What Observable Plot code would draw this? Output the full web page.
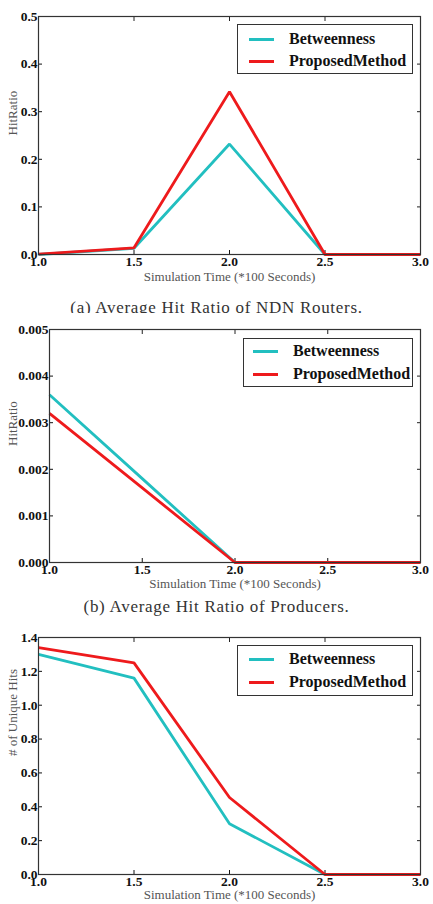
<!DOCTYPE html>
<html>
<head>
<meta charset="utf-8">
<script src="https://cdn.jsdelivr.net/npm/d3@7"></script>
<script src="https://cdn.jsdelivr.net/npm/@observablehq/plot@0.6"></script>
<style>
  html, body { margin: 0; padding: 0; background: #fff; }
  #root { position: relative; width: 433px; height: 904px; overflow: hidden; background: #fff; }
  .panel { position: absolute; left: 0; }
  .caption { position: absolute; left: 0; width: 433px; text-align: center;
    font-family: "Liberation Serif", serif; font-size: 17px; letter-spacing: 0.7px; color: #333; }
  .legend { position: absolute; border: 1px solid #333; background: #fff; box-sizing: border-box; }
  .legend .row { position: absolute; left: 0; right: 0; height: 20px; }
  .legend .swatch { position: absolute; height: 3px; }
  .legend .lbl { position: absolute; font-family: "Liberation Serif", serif; font-weight: bold;
    font-size: 16px; line-height: 20px; color: #111; }
</style>
</head>
<body>
<div id="root"></div>
<script>
// ---- data ----
const times = [1.0, 1.5, 2.0, 2.5, 3.0];
const seriesNames = ["Betweenness", "ProposedMethod"];
const seriesColors = ["#22bfc0", "#ee1a1c"];

const routersBetweenness = [0.000, 0.013, 0.232, 0.000, 0.000];
const routersProposed    = [0.001, 0.014, 0.342, 0.000, 0.000];

const producersBetweenness = [0.0036, 0.0018, 0.0000, 0.0000, 0.0000];
const producersProposed    = [0.0032, 0.0016, 0.0000, 0.0000, 0.0000];

const hitsBetweenness = [1.30, 1.16, 0.30, 0.00, 0.00];
const hitsProposed    = [1.34, 1.25, 0.455, 0.00, 0.00];

const xTicks = [1.0, 1.5, 2.0, 2.5, 3.0];
const routersTicks = [0, 0.1, 0.2, 0.3, 0.4, 0.5];
const producersTicks = [0, 0.001, 0.002, 0.003, 0.004, 0.005];
const hitsTicks = [0, 0.2, 0.4, 0.6, 0.8, 1.0, 1.2, 1.4];

const xTitle = "Simulation Time (*100 Seconds)";
const captionA = "(a) Average Hit Ratio of NDN Routers.";
const captionB = "(b) Average Hit Ratio of Producers.";

function toRows(a, b) {
  const rows = [];
  times.forEach((t, i) => rows.push({t, v: a[i], s: seriesNames[0]}));
  times.forEach((t, i) => rows.push({t, v: b[i], s: seriesNames[1]}));
  return rows;
}

const root = document.getElementById("root");
const blank = () => "";

function panel({top, height, marginLeft, rows, yDomain, yTicks, yFormat, yTitle, yTitleX, xTitleDy}) {
  const chart = Plot.plot({
    width: 433,
    height,
    marginLeft,
    marginRight: 13,
    marginTop: 16,
    marginBottom: 36,
    style: {background: "#fff", overflow: "visible"},
    x: {domain: [1, 3]},
    y: {domain: yDomain},
    color: {domain: seriesNames, range: seriesColors},
    marks: [
      Plot.axisY({ticks: yTicks, tickFormat: d3.format(yFormat), tickSize: -4, tickPadding: 5,
        label: null, fontFamily: "Liberation Serif", fontWeight: "bold", fontSize: 13.5, color: "#111"}),
      Plot.axisY({anchor: "right", ticks: yTicks, tickFormat: blank, tickSize: -4, label: null, color: "#222"}),
      Plot.axisX({ticks: xTicks, tickFormat: d3.format(".1f"), tickSize: -4, tickPadding: 6,
        label: null, fontFamily: "Liberation Serif", fontWeight: "bold", fontSize: 13.5, color: "#111"}),
      Plot.axisX({anchor: "top", ticks: xTicks, tickFormat: blank, tickSize: -4, label: null, color: "#222"}),
      Plot.line(rows, {x: "t", y: "v", stroke: "s", strokeWidth: 2.8, strokeLinejoin: "miter", strokeLinecap: "butt"}),
      Plot.frame({stroke: "#333", strokeWidth: 1.2}),
      Plot.text([xTitle], {text: d => d, frameAnchor: "bottom", dy: xTitleDy, lineAnchor: "middle",
        fontFamily: "Liberation Serif", fontSize: 13, fill: "#555"}),
      Plot.text([yTitle], {text: d => d, frameAnchor: "left", dx: yTitleX - marginLeft, rotate: -90,
        fontFamily: "Liberation Serif", fontSize: 13, fill: "#555"})
    ]
  });
  const wrap = document.createElement("div");
  wrap.className = "panel";
  wrap.style.top = top + "px";
  wrap.appendChild(chart);
  root.appendChild(wrap);
}

function legend({left, top, width, height, swatchLeft, textLeft, rowTops}) {
  const box = document.createElement("div");
  box.className = "legend";
  Object.assign(box.style, {left: left + "px", top: top + "px", width: width + "px", height: height + "px"});
  seriesNames.forEach((name, i) => {
    const row = document.createElement("div");
    row.className = "row";
    row.style.top = (rowTops[i] - 10) + "px";
    const sw = document.createElement("div");
    sw.className = "swatch";
    Object.assign(sw.style, {left: swatchLeft + "px", width: "25px", top: "8.5px", background: seriesColors[i]});
    const lb = document.createElement("div");
    lb.className = "lbl";
    lb.style.left = textLeft + "px";
    lb.style.top = "0px";
    lb.textContent = name;
    row.appendChild(sw); row.appendChild(lb);
    box.appendChild(row);
  });
  root.appendChild(box);
}

function caption(text, centerY) {
  const c = document.createElement("div");
  c.className = "caption";
  c.style.top = (centerY - 10) + "px";
  c.style.lineHeight = "20px";
  c.textContent = text;
  root.appendChild(c);
}

panel({top: 0, height: 290, marginLeft: 38, rows: toRows(routersBetweenness, routersProposed),
  yDomain: [0, 0.5], yTicks: routersTicks, yFormat: ".1f", yTitle: "HitRatio", yTitleX: 12, xTitleDy: 22});
legend({left: 237, top: 24, width: 176, height: 50, swatchLeft: 11, textLeft: 51, rowTops: [14, 36]});
caption(captionA, 308);

panel({top: 313, height: 285, marginLeft: 49, rows: toRows(producersBetweenness, producersProposed),
  yDomain: [0, 0.005], yTicks: producersTicks, yFormat: ".3f", yTitle: "HitRatio", yTitleX: 12, xTitleDy: 21});
legend({left: 243, top: 338, width: 170, height: 49, swatchLeft: 9, textLeft: 49, rowTops: [12, 35]});
caption(captionB, 607);

panel({top: 621, height: 289, marginLeft: 38, rows: toRows(hitsBetweenness, hitsProposed),
  yDomain: [0, 1.4], yTicks: hitsTicks, yFormat: ".1f", yTitle: "# of Unique Hits", yTitleX: 12, xTitleDy: 20.5});
legend({left: 237, top: 645, width: 176, height: 51, swatchLeft: 11, textLeft: 51, rowTops: [13, 36]});
</script>
</body>
</html>
